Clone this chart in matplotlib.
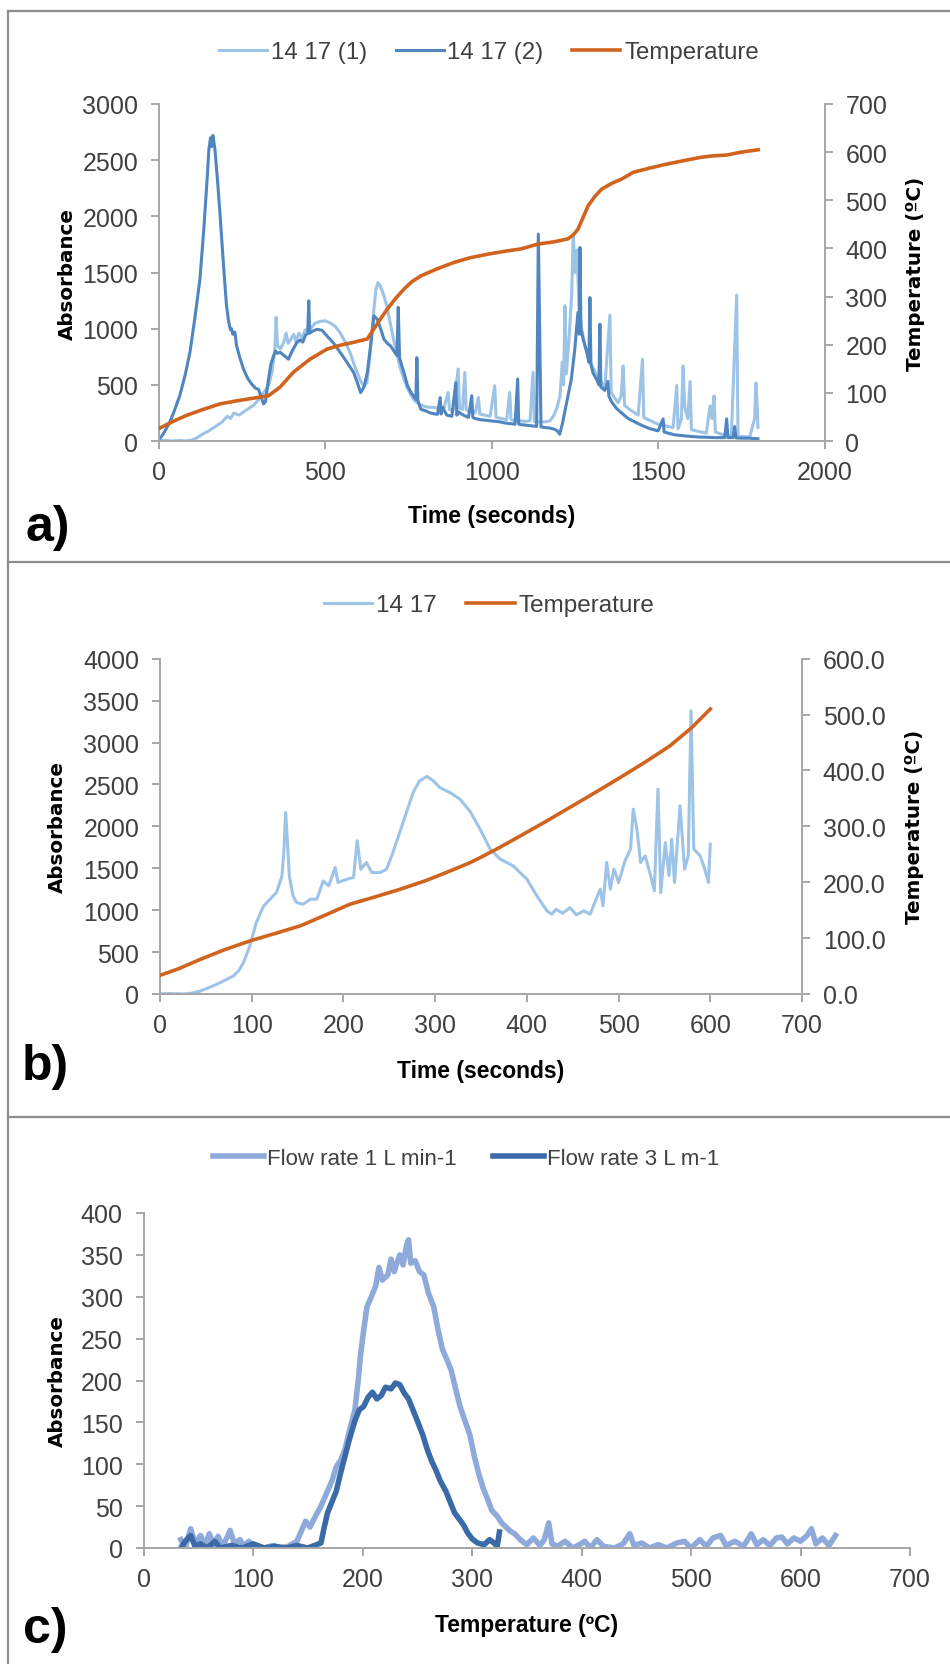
import matplotlib
matplotlib.use("Agg")
import matplotlib.pyplot as plt
from matplotlib import font_manager
from matplotlib.lines import Line2D

# ---- data: panel a (time in s, absorbance, temperature in ºC) ----
a_time_1 = [0, 20, 40, 60, 80, 100, 115, 130, 150, 170, 190, 205, 215, 225, 240, 255, 270, 285, 300, 315,
            330, 340, 348, 352, 356, 365, 375, 382, 388, 395, 405, 412, 420, 430, 440, 455, 470, 485, 500, 515,
            530, 545, 560, 575, 590, 605, 615, 625, 635, 645, 652, 658, 665, 675, 685, 695, 705, 715, 725, 735,
            745, 755, 765, 780, 795, 810, 825, 840, 855, 869, 873, 885, 899, 903, 912, 919, 923, 935, 950, 960,
            964, 980, 995, 1009, 1013, 1030, 1045, 1054, 1058, 1070, 1085, 1100, 1115, 1124, 1128, 1140, 1160, 1175, 1185, 1195,
            1205, 1212, 1216, 1220, 1224, 1232, 1240, 1245, 1250, 1256, 1262, 1270, 1280, 1290, 1300, 1310, 1320, 1330, 1340, 1355,
            1359, 1370, 1380, 1389, 1395, 1399, 1410, 1425, 1440, 1453, 1457, 1470, 1485, 1500, 1515, 1530, 1545, 1556, 1560, 1570,
            1575, 1580, 1589, 1596, 1600, 1615, 1630, 1645, 1656, 1662, 1668, 1672, 1690, 1705, 1720, 1736, 1740, 1760, 1775, 1790,
            1794, 1798, 1800]
a_abs_1 = [5, 5, 0, 5, 0, 10, 30, 60, 90, 130, 170, 220, 200, 250, 230, 260, 290, 320, 370, 430,
           500, 620, 800, 1100, 850, 820, 880, 960, 870, 900, 950, 880, 960, 920, 990, 1000, 1050, 1065, 1070, 1050,
           1020, 960, 880, 780, 650, 540, 490, 520, 800, 1150, 1350, 1411, 1380, 1300, 1200, 1050, 900, 780, 650, 560,
           480, 420, 370, 330, 310, 300, 300, 290, 280, 433, 280, 280, 641, 290, 280, 611, 280, 260, 250, 388,
           240, 230, 220, 492, 210, 200, 190, 433, 190, 180, 180, 175, 180, 611, 170, 170, 170, 180, 220, 285,
           400, 700, 500, 1203, 600, 900, 1300, 1842, 1500, 1700, 1200, 1000, 850, 750, 680, 620, 560, 520, 480, 1120,
           430, 380, 340, 401, 668, 320, 290, 260, 230, 727, 210, 190, 170, 150, 140, 130, 120, 494, 110, 200,
           668, 300, 200, 530, 100, 90, 80, 70, 312, 200, 401, 80, 60, 50, 45, 1300, 40, 40, 35, 200,
           516, 300, 120]

a_time_2 = [0, 10, 20, 32, 45, 62, 78, 93, 108, 123, 135, 145, 150, 155, 158, 162, 168, 175, 183, 193,
            203, 210, 215, 218, 222, 228, 233, 243, 254, 266, 279, 290, 299, 306, 314, 320, 329, 336, 344, 350,
            356, 364, 376, 389, 400, 414, 425, 432, 440, 447, 450, 453, 460, 475, 490, 505, 525, 545, 565, 585,
            596, 606, 616, 626, 636, 646, 656, 666, 676, 686, 696, 706, 715, 719, 723, 727, 737, 747, 760, 772,
            775, 778, 787, 800, 815, 830, 837, 845, 848, 852, 865, 880, 892, 895, 900, 915, 930, 940, 943, 950,
            965, 980, 995, 1010, 1025, 1040, 1055, 1070, 1078, 1081, 1090, 1105, 1120, 1135, 1140, 1144, 1148, 1160, 1175, 1189,
            1197, 1204, 1212, 1219, 1229, 1239, 1249, 1255, 1259, 1263, 1265, 1268, 1275, 1285, 1292, 1295, 1298, 1305, 1315, 1322,
            1325, 1328, 1340, 1349, 1352, 1360, 1375, 1390, 1410, 1430, 1450, 1475, 1500, 1515, 1518, 1530, 1550, 1575, 1600, 1625,
            1650, 1675, 1700, 1706, 1710, 1725, 1730, 1734, 1750, 1775, 1800]
a_abs_2 = [15, 50, 100, 165, 260, 400, 580, 790, 1100, 1440, 1900, 2350, 2600, 2700, 2620, 2720, 2600, 2350, 2035, 1600,
           1200, 1050, 990, 1000, 950, 970, 850, 740, 640, 560, 505, 470, 460, 400, 330, 350, 550, 680, 757, 800,
           780, 790, 760, 728, 800, 876, 900, 880, 940, 960, 1248, 960, 975, 995, 985, 935, 870, 787, 700, 609,
           520, 430, 480, 609, 850, 1114, 1084, 1000, 906, 870, 846, 800, 760, 1190, 740, 698, 600, 490, 420, 371,
           742, 360, 282, 270, 250, 240, 238, 386, 240, 300, 230, 220, 520, 230, 258, 230, 210, 403, 210, 200,
           190, 185, 180, 175, 170, 160, 155, 150, 552, 150, 145, 140, 135, 130, 1842, 1000, 125, 120, 115, 104,
           90, 60, 150, 252, 400, 549, 800, 1000, 1144, 950, 1723, 1000, 900, 800, 700, 1277, 680, 600, 550, 500,
           1040, 480, 450, 530, 400, 350, 290, 250, 200, 170, 140, 110, 90, 197, 80, 70, 55, 47, 40, 35,
           33, 30, 30, 197, 30, 30, 128, 28, 25, 25, 20]

a_time_t = [0, 40, 82, 130, 183, 230, 284, 329, 364, 404, 454, 505, 545, 585, 626, 646, 666, 686, 712, 737,
            760, 787, 837, 887, 937, 988, 1038, 1088, 1139, 1190, 1229, 1245, 1259, 1275, 1290, 1310, 1330, 1360, 1390, 1425,
            1475, 1525, 1575, 1626, 1660, 1706, 1750, 1801]
a_temp = [26, 40, 53, 65, 77, 83, 89, 94, 112, 143, 170, 191, 199, 205, 212, 233, 254, 274, 297, 316,
          331, 343, 358, 371, 381, 388, 394, 399, 409, 414, 420, 428, 440, 465, 489, 508, 523, 535, 544, 558,
          567, 575, 582, 589, 592, 594, 600, 605]

# ---- data: panel b ----
b_time = [0, 10, 25, 35, 44, 52, 62, 70, 80, 86, 91, 98, 105, 113, 120, 127, 133, 135, 137, 139,
          141, 145, 149, 156, 164, 171, 178, 184, 191, 194, 204, 211, 215, 219, 225, 231, 240, 247, 254, 265,
          276, 283, 291, 298, 305, 316, 327, 338, 349, 360, 371, 385, 400, 411, 422, 427, 432, 439, 447, 454,
          462, 469, 474, 480, 483, 487, 491, 495, 500, 507, 513, 516, 520, 524, 529, 535, 539, 543, 546, 551,
          555, 558, 561, 567, 572, 576, 579, 582, 589, 594, 598, 600]
b_abs = [0, 5, 0, 10, 36, 70, 116, 160, 215, 280, 375, 573, 852, 1051, 1131, 1211, 1409, 1700, 2166, 1800,
         1409, 1171, 1091, 1071, 1131, 1131, 1349, 1290, 1509, 1330, 1370, 1390, 1827, 1489, 1569, 1449, 1449, 1489, 1688, 2046,
         2404, 2543, 2596, 2543, 2463, 2404, 2325, 2180, 1967, 1728, 1609, 1529, 1370, 1170, 991, 952, 1011, 963, 1031, 944,
         992, 952, 1091, 1250, 1051, 1569, 1250, 1489, 1330, 1588, 1728, 2205, 1967, 1569, 1648, 1410, 1230, 2444, 1210, 1807,
         1410, 1847, 1330, 2245, 1489, 1648, 3379, 1728, 1648, 1489, 1330, 1787]
b_time_t = [0, 20, 44, 70, 98, 125, 153, 180, 207, 235, 262, 290, 316, 338, 349, 370, 393, 420, 447, 475,
            502, 530, 556, 580, 600]
b_temp = [33.5, 45, 62, 79, 95, 108, 122, 141, 160.6, 174, 187.5, 203, 220, 235, 244, 262, 283, 308, 334, 361,
          387.6, 416, 444, 477, 510]

# ---- data: panel c (temperature in ºC, absorbance) ----
c_temp_1 = [34, 38, 43, 47, 52, 56, 60, 64, 68, 72, 76, 79, 83, 88, 92, 96, 100, 104, 110, 118,
            125, 132, 140, 144, 148, 152, 157, 162, 168, 172, 176, 180, 184, 188, 193, 196, 198, 201, 204, 208,
            212, 215, 218, 223, 226, 229, 231, 234, 237, 240, 242, 244, 248, 252, 256, 260, 265, 269, 273, 277,
            281, 285, 289, 294, 298, 302, 306, 310, 314, 318, 323, 327, 331, 335, 339, 344, 350, 356, 362, 366,
            370, 373, 378, 385, 392, 398, 403, 408, 414, 420, 430, 438, 444, 448, 455, 462, 470, 478, 487, 494,
            500, 508, 514, 520, 527, 532, 540, 548, 555, 560, 566, 572, 578, 583, 588, 594, 600, 606, 610, 614,
            620, 626, 632]
c_abs_1 = [10, 0, 23, 5, 15, 3, 17, 4, 14, 2, 12, 21, 5, 10, 2, 8, 3, 2, 0, 3,
           0, 2, 8, 20, 32, 25, 38, 50, 68, 80, 97, 105, 118, 140, 165, 200, 229, 260, 288, 300,
           313, 335, 320, 326, 345, 330, 339, 350, 338, 360, 368, 340, 343, 330, 326, 305, 288, 260, 237, 225,
           212, 190, 169, 150, 135, 110, 89, 72, 59, 45, 38, 30, 25, 20, 17, 10, 4, 12, 3, 10,
           30, 5, 2, 8, 0, 4, 8, 0, 10, 2, 0, 5, 17, 3, 6, 0, 4, 0, 6, 8,
           0, 10, 2, 12, 15, 3, 8, 2, 17, 4, 10, 3, 12, 13, 5, 12, 8, 15, 23, 5,
           12, 3, 15]
c_temp_2 = [34, 38, 43, 47, 52, 58, 65, 70, 80, 90, 100, 110, 120, 130, 140, 150, 158, 162, 165, 168,
            172, 176, 180, 184, 188, 193, 197, 201, 205, 209, 213, 217, 221, 226, 230, 234, 238, 242, 246, 250,
            255, 259, 263, 267, 271, 276, 280, 284, 288, 292, 296, 300, 305, 311, 316, 320, 323, 325]
c_abs_2 = [0, 8, 15, 2, 5, 0, 8, 0, 3, 0, 5, 0, 2, 0, 3, 0, 4, 6, 25, 42,
           55, 68, 90, 110, 130, 152, 165, 169, 180, 186, 178, 182, 192, 190, 197, 195, 185, 178, 165, 152,
           135, 118, 104, 93, 80, 68, 55, 42, 35, 28, 18, 11, 6, 4, 10, 6, 2, 19]

# ---- style ----
names = {f.name for f in font_manager.fontManager.ttflist}
narrow = "Liberation Sans Narrow" if "Liberation Sans Narrow" in names else "Liberation Sans"
plt.rcParams["font.family"] = [narrow, "DejaVu Sans"]

W, H = 950, 1665
TICK_FS = 18
XLAB_FS = 16.5
GRAY = "#A6A6A6"
TXT = "#404040"
LIGHT = "#9DC3E6"
MID = "#4F86C0"
ORANGE = "#D0641F"
C_LIGHT = "#8FAADA"
C_DARK = "#3A6AA8"


def rect(l, t, r, b):
    return [l / W, 1 - b / H, (r - l) / W, (b - t) / H]


def style_axis(ax):
    for s in ["top", "right"]:
        ax.spines[s].set_visible(False)
    for s in ["left", "bottom"]:
        ax.spines[s].set_color(GRAY)
        ax.spines[s].set_linewidth(1.4)
    ax.tick_params(axis="both", colors=GRAY, labelcolor=TXT, labelsize=TICK_FS,
                   length=6, width=1.4, direction="out")
    ax.tick_params(axis="y", pad=9)
    ax.tick_params(axis="x", pad=8)


def style_twin(ax2):
    for s in ["top", "left", "bottom"]:
        ax2.spines[s].set_visible(False)
    ax2.spines["right"].set_color(GRAY)
    ax2.spines["right"].set_linewidth(1.4)
    ax2.tick_params(axis="y", colors=GRAY, labelcolor=TXT, labelsize=TICK_FS,
                    length=6, width=1.4, direction="out", pad=9)


def ylab(ax, text, x):
    ax.set_ylabel(text, family="DejaVu Sans", fontweight="bold", fontsize=14.3, color="black")
    ax.yaxis.set_label_coords(x, 0.5)
    ax.yaxis.label.set_va("center")
    ax.yaxis.label.set_rotation_mode("anchor")


def xlab(ax, text, y):
    ax.set_xlabel(text, fontweight="bold", fontsize=XLAB_FS, color="black")
    ax.xaxis.set_label_coords(0.5, y)
    ax.xaxis.label.set_va("center")


fig = plt.figure(figsize=(W / 100, H / 100), dpi=100)

# ---- panel a ----
ax = fig.add_axes(rect(159, 105, 824.5, 442))
l1, = ax.plot(a_time_1, a_abs_1, color=LIGHT, lw=2.2, label="14 17 (1)")
l2, = ax.plot(a_time_2, a_abs_2, color=MID, lw=2.2, label="14 17 (2)")
ax.set_xlim(0, 2000)
ax.set_ylim(0, 3000)
ax.set_xticks(range(0, 2001, 500))
ax.set_yticks(range(0, 3001, 500))
style_axis(ax)
ylab(ax, "Absorbance", -0.138)
xlab(ax, "Time (seconds)", -0.22)
ax2 = ax.twinx()
l3, = ax2.plot(a_time_t, a_temp, color=ORANGE, lw=2.6, label="Temperature")
ax2.set_ylim(0, 700)
ax2.set_yticks(range(0, 701, 100))
style_twin(ax2)
ylab(ax2, "Temperature (ºC)", 1.136)
fig.legend(handles=[l1, l2, l3], loc="center", bbox_to_anchor=(489 / W, 1 - 53 / H), ncol=3,
           frameon=False, fontsize=17.3, handlelength=2.0, handletextpad=0.15, columnspacing=1.2,
           labelcolor=TXT)
fig.text(48 / W, 1 - 528 / H, "a)", ha="center", va="center", fontsize=36, fontweight="bold")

# ---- panel b ----
bx = fig.add_axes(rect(160, 659.7, 802, 995))
m1, = bx.plot(b_time, b_abs, color=LIGHT, lw=2.2, label="14 17")
bx.set_xlim(0, 700)
bx.set_ylim(0, 4000)
bx.set_xticks(range(0, 701, 100))
bx.set_yticks(range(0, 4001, 500))
style_axis(bx)
ylab(bx, "Absorbance", -0.16)
xlab(bx, "Time (seconds)", -0.227)
bx2 = bx.twinx()
m2, = bx2.plot(b_time_t, b_temp, color=ORANGE, lw=2.6, label="Temperature")
bx2.set_ylim(0, 600)
bx2.set_yticks(range(0, 601, 100))
bx2.set_yticklabels([f"{v:.1f}" for v in range(0, 601, 100)])
style_twin(bx2)
ylab(bx2, "Temperature (ºC)", 1.176)
fig.legend(handles=[m1, m2], loc="center", bbox_to_anchor=(489 / W, 1 - 606 / H), ncol=2,
           frameon=False, fontsize=17.5, handlelength=2.0, handletextpad=0.15, columnspacing=1.2,
           labelcolor=TXT)
fig.text(45 / W, 1 - 1067 / H, "b)", ha="center", va="center", fontsize=36, fontweight="bold")

# ---- panel c ----
cx = fig.add_axes(rect(143.6, 1214, 910, 1549))
n1, = cx.plot(c_temp_1, c_abs_1, color=C_LIGHT, lw=4, label="Flow rate 1 L min-1")
n2, = cx.plot(c_temp_2, c_abs_2, color=C_DARK, lw=4, label="Flow rate 3 L m-1")
cx.set_xlim(0, 700)
cx.set_ylim(0, 400)
cx.set_xticks(range(0, 701, 100))
cx.set_yticks(range(0, 401, 50))
style_axis(cx)
ylab(cx, "Absorbance", -0.112)
xlab(cx, "Temperature (ºC)", -0.227)
fig.legend(handles=[n1, n2], loc="center", bbox_to_anchor=(466 / W, 1 - 1159.6 / H), ncol=2,
           frameon=False, fontsize=16, handlelength=2.3, handletextpad=0.15, columnspacing=1.6,
           labelcolor=TXT)
fig.text(45 / W, 1 - 1630 / H, "c)", ha="center", va="center", fontsize=36, fontweight="bold")

# ---- panel frames ----
for y in [12, 563, 1118]:
    fig.add_artist(Line2D([8 / W, 1], [1 - y / H, 1 - y / H], transform=fig.transFigure,
                          color="#8C8C8C", lw=1.6))
fig.add_artist(Line2D([8 / W, 8 / W], [1 - 12 / H, 0], transform=fig.transFigure,
                      color="#8C8C8C", lw=1.6))

fig.savefig("out.png", dpi=100)
